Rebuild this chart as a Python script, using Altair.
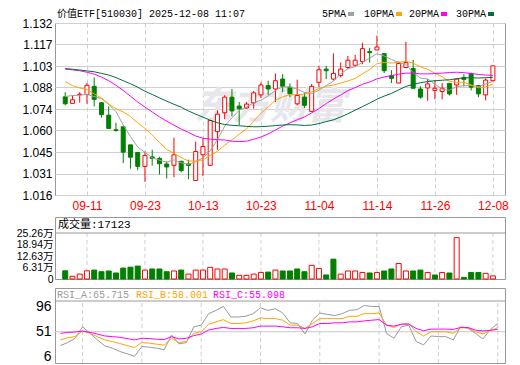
import altair as alt
import pandas as pd

# ---------------- data ----------------
dates = ["09-08","09-09","09-10","09-11","09-12","09-15","09-16","09-17","09-18","09-19",
         "09-22","09-23","09-24","09-25","09-26","09-29","09-30","10-09","10-10","10-13",
         "10-14","10-15","10-16","10-17","10-20","10-21","10-22","10-23","10-24","10-27",
         "10-28","10-29","10-30","10-31","11-03","11-04","11-05","11-06","11-07","11-10",
         "11-11","11-12","11-13","11-14","11-17","11-18","11-19","11-20","11-21","11-24",
         "11-25","11-26","11-27","11-28","12-01","12-02","12-03","12-04","12-05","12-08"]

open_ = [1.0822,1.0778,1.0837,1.0838,1.0893,1.0782,1.0698,1.0600,1.0620,1.0498,
         1.0447,1.0353,1.0417,1.0407,1.0369,1.0360,1.0387,1.0369,1.0258,1.0431,
         1.0360,1.0587,1.0715,1.0820,1.0760,1.0747,1.0782,1.0835,1.0898,1.0875,
         1.0942,1.0887,1.0775,1.0820,1.0724,1.0920,1.1009,1.0942,1.0965,1.1020,
         1.1035,1.1060,1.1127,1.1138,1.1113,1.0965,1.0915,1.1020,1.1013,1.0875,
         1.0882,1.0865,1.0858,1.0913,1.0902,1.0953,1.0980,1.0898,1.0835,1.0931]
close = [1.0775,1.0802,1.0840,1.0900,1.0805,1.0702,1.0609,1.0595,1.0449,1.0415,
         1.0353,1.0427,1.0407,1.0371,1.0349,1.0431,1.0325,1.0360,1.0453,1.0487,
         1.0662,1.0705,1.0820,1.0727,1.0742,1.0773,1.0849,1.0902,1.0875,1.0931,
         1.0893,1.0842,1.0831,1.0765,1.0893,1.1005,1.0998,1.0980,1.1009,1.1069,
         1.1069,1.1147,1.1120,1.1158,1.0998,1.0947,1.1047,1.1053,1.0880,1.0820,
         1.0909,1.0880,1.0880,1.0842,1.0942,1.0940,1.0887,1.0842,1.0935,1.1031]
high = [1.0853,1.0831,1.0853,1.0915,1.0953,1.0787,1.0758,1.0647,1.0620,1.0498,
        1.0447,1.0453,1.0465,1.0418,1.0387,1.0547,1.0391,1.0398,1.0520,1.0542,
        1.0667,1.0731,1.0833,1.0875,1.0787,1.0787,1.0862,1.0920,1.0931,1.0980,
        1.0975,1.0913,1.0938,1.0849,1.0909,1.1031,1.1031,1.1115,1.1053,1.1098,
        1.1105,1.1187,1.1153,1.1235,1.1113,1.1002,1.1060,1.1193,1.1071,1.0893,
        1.0942,1.0931,1.0915,1.0913,1.0949,1.0975,1.0985,1.0898,1.0947,1.1031]
low = [1.0765,1.0778,1.0783,1.0775,1.0758,1.0682,1.0609,1.0587,1.0375,1.0338,
       1.0327,1.0249,1.0358,1.0298,1.0271,1.0280,1.0313,1.0267,1.0258,1.0287,
       1.0360,1.0465,1.0671,1.0690,1.0631,1.0742,1.0742,1.0813,1.0835,1.0787,
       1.0853,1.0820,1.0765,1.0747,1.0720,1.0887,1.0942,1.0931,1.0953,1.1009,
       1.1027,1.1042,1.1053,1.1138,1.0982,1.0915,1.0915,1.1015,1.0880,1.0809,
       1.0795,1.0805,1.0805,1.0831,1.0835,1.0893,1.0865,1.0820,1.0798,1.0931]

ma5 = [1.0824,1.0831,1.0833,1.0838,1.0824,1.0810,1.0771,1.0722,1.0632,1.0554,
       1.0484,1.0448,1.0410,1.0395,1.0381,1.0397,1.0377,1.0367,1.0384,1.0411,
       1.0457,1.0533,1.0625,1.0680,1.0731,1.0753,1.0782,1.0799,1.0828,1.0866,
       1.0890,1.0889,1.0874,1.0852,1.0845,1.0867,1.0898,1.0928,1.0977,1.1012,
       1.1025,1.1055,1.1083,1.1113,1.1098,1.1074,1.1054,1.1041,1.0985,1.0949,
       1.0942,1.0908,1.0874,1.0866,1.0891,1.0897,1.0898,1.0891,1.0909,1.0927]
ma10 = [1.0925,1.0898,1.0882,1.0871,1.0842,1.0813,1.0775,1.0742,1.0720,1.0689,
        1.0647,1.0610,1.0566,1.0514,1.0468,1.0441,1.0413,1.0389,1.0390,1.0396,
        1.0427,1.0455,1.0496,1.0532,1.0571,1.0605,1.0658,1.0712,1.0754,1.0799,
        1.0822,1.0836,1.0837,1.0840,1.0856,1.0879,1.0894,1.0901,1.0915,1.0929,
        1.0946,1.0977,1.1006,1.1045,1.1055,1.1050,1.1055,1.1062,1.1049,1.1024,
        1.1008,1.0981,1.0958,1.0926,1.0920,1.0920,1.0903,1.0883,1.0888,1.0909]
ma20 = [1.1009,1.1004,1.0998,1.0988,1.0975,1.0955,1.0931,1.0900,1.0865,1.0826,
        1.0787,1.0753,1.0720,1.0687,1.0658,1.0631,1.0605,1.0582,1.0558,1.0543,
        1.0537,1.0533,1.0531,1.0523,1.0520,1.0523,1.0536,1.0551,1.0572,1.0598,
        1.0625,1.0646,1.0667,1.0686,1.0714,1.0742,1.0776,1.0807,1.0835,1.0864,
        1.0884,1.0907,1.0922,1.0943,1.0956,1.0965,1.0975,1.0982,1.0982,1.0977,
        1.0977,1.0979,1.0982,1.0986,1.0988,1.0985,1.0979,1.0973,1.0969,1.0967]
ma30 = [1.1013,1.1008,1.1003,1.0997,1.0991,1.0980,1.0969,1.0952,1.0931,1.0910,
        1.0887,1.0860,1.0838,1.0815,1.0793,1.0772,1.0752,1.0727,1.0705,1.0685,
        1.0664,1.0647,1.0635,1.0630,1.0627,1.0623,1.0620,1.0621,1.0624,1.0628,
        1.0632,1.0634,1.0633,1.0629,1.0632,1.0642,1.0655,1.0667,1.0686,1.0708,
        1.0732,1.0756,1.0780,1.0806,1.0827,1.0845,1.0869,1.0892,1.0906,1.0917,
        1.0925,1.0931,1.0934,1.0937,1.0944,1.0950,1.0951,1.0949,1.0951,1.0954]

volume = [45000,15000,27000,45000,49000,40000,44000,33000,60000,65000,
          71000,49000,55000,55000,40000,44000,49000,27000,49000,49000,
          64000,55000,55000,33000,20000,20000,27000,36000,38000,49000,
          44000,44000,55000,40000,75000,58000,22000,109000,27000,44000,
          44000,36000,33000,36000,44000,55000,85000,44000,44000,49000,
          36000,22000,36000,33000,227000,9000,36000,36000,31000,17123]

rsi_a = [26.3,31.6,39.3,59.8,48.1,36.3,25.7,21.6,15.7,11.6,
         6.9,24.6,23.4,21.6,18.7,45.1,29.3,31.6,59.8,62.8,
         83.3,89.2,96.2,77.4,77.4,78.6,83.3,93.9,89.2,92.1,
         84.5,66.9,65.7,46.9,71.6,84.5,82.1,79.8,83.3,89.2,
         90.4,98.0,96.2,96.2,48.1,39.3,59.8,62.8,33.4,27.5,
         43.4,42.2,42.2,36.3,59.8,56.9,48.1,38.0,55.0,65.715]
rsi_b = [36.3,40.4,42.2,52.2,48.1,42.2,36.3,33.4,29.9,26.3,
         22.8,31.6,30.5,28.7,26.9,39.3,31.6,33.4,48.1,51.0,
         64.5,68.6,72.7,65.7,65.7,66.9,70.4,75.7,74.5,74.5,
         71.6,62.8,62.8,56.9,65.7,74.5,74.5,74.5,74.5,78.6,
         78.6,83.3,83.3,84.5,62.8,58.6,64.5,65.7,51.0,43.4,
         51.0,51.0,51.0,48.1,58.1,58.1,51.0,47.0,53.0,58.001]
rsi_c = [48.1,49.8,50.4,52.2,49.8,46.9,43.4,42.2,41.0,38.7,
         36.3,39.3,38.7,37.5,37.0,42.2,38.1,39.3,44.0,46.9,
         53.9,56.9,58.6,56.9,56.9,56.9,58.1,61.0,61.0,61.0,
         59.8,58.1,58.1,56.9,59.8,65.7,65.7,66.9,66.9,68.6,
         68.6,70.4,71.6,72.7,62.8,61.0,64.5,64.5,56.9,52.8,
         55.7,55.7,55.7,55.1,58.6,58.6,53.8,52.5,53.5,55.098]

tick_idx = [3, 11, 19, 27, 35, 43, 51, 59]
price_ticks = [1.016, 1.0305, 1.045, 1.0595, 1.074, 1.0885, 1.103, 1.1175, 1.132]
price_labels = ["1.016", "1.031", "1.045", "1.060", "1.074", "1.088", "1.103", "1.117", "1.132"]
vol_ticks = [0, 63150, 126300, 189450, 252600]
vol_labels = ["0", "6.31万", "12.63万", "18.94万", "25.26万"]
rsi_ticks = [6, 51, 96]
ma_names = ["5PMA", "10PMA", "20PMA", "30PMA"]
title_text = "价值ETF[510030] 2025-12-08 11:07"
watermark = "东方财富"

# ---------------- styling ----------------
RED, GREEN = "#ff0000", "#008000"
MA_COLORS = ["#a0a0a0", "#ffa500", "#ff00ff", "#006f3c"]
GRID, BORDER = "#cfcfcf", "#999999"
MONO = "Liberation Mono, Noto Sans CJK SC"
SANS = "Liberation Sans, Noto Sans CJK SC"
W = 450
H_MAIN = 172
H_VOL, H_VOL_PLOT = 62, 46
H_RSI, H_RSI_PLOT = 75, 62

df = pd.DataFrame({"i": range(len(dates)), "date": dates, "open": open_, "high": high,
                   "low": low, "close": close, "vol": volume, "ma5": ma5, "ma10": ma10,
                   "ma20": ma20, "ma30": ma30, "rsi_a": rsi_a, "rsi_b": rsi_b, "rsi_c": rsi_c})
# volume colour follows the close versus the previous close
prev_close = df["close"].shift(1).fillna(df["open"])
df["vup"] = (df["close"] >= prev_close).astype(int)

UP = "datum.close >= datum.open"
DOWN = "datum.close < datum.open"

xs = alt.Scale(domain=[-0.72, 59.98], nice=False, zero=False)
date_js = "[" + ",".join("'%s'" % d for d in dates) + "]"
price_js = "[" + ",".join("'%s'" % s for s in price_labels) + "]"
step = (price_ticks[-1] - price_ticks[0]) / (len(price_ticks) - 1)

x_main = alt.X("i:Q", scale=xs, axis=alt.Axis(
    values=tick_idx, labelExpr=date_js + "[datum.value]", labelColor=RED, labelFlush=False,
    grid=True, gridColor=GRID, gridDash=[4, 3], ticks=False, domain=False, labelPadding=5,
    title=None, labelFont=SANS, labelFontSize=12, labelOverlap=False))
ys = alt.Scale(domain=[price_ticks[0], price_ticks[-1]], nice=False, zero=False)
y_axis = alt.Axis(values=price_ticks,
                  labelExpr=price_js + "[round((datum.value-%r)/%r)]" % (price_ticks[0], step),
                  grid=True, gridColor=GRID, ticks=False, domain=False, labelPadding=3,
                  title=None, labelFont=SANS, labelFontSize=12, labelOverlap=False)

base = alt.Chart(df)
wm = alt.Chart(pd.DataFrame({"t": [watermark]})).mark_text(
    fontSize=38, fontWeight="bold", fontStyle="italic", color="#e6e6ec", font=SANS
).encode(x=alt.value(215), y=alt.value(85), text="t:N")
wick_up = base.transform_filter(UP).mark_rule(color=RED, strokeWidth=1).encode(
    x=x_main, y=alt.Y("low:Q", scale=ys, axis=y_axis), y2="high:Q")
wick_dn = base.transform_filter(DOWN).mark_rule(color=GREEN, strokeWidth=1).encode(
    x=x_main, y=alt.Y("low:Q", scale=ys, axis=y_axis), y2="high:Q")
body_up = base.transform_filter(UP).mark_bar(size=4, fill="white", stroke=RED, strokeWidth=1).encode(
    x=x_main, y=alt.Y("open:Q", scale=ys, axis=y_axis), y2="close:Q")
body_dn = base.transform_filter(DOWN).mark_bar(size=4, fill=GREEN, stroke=GREEN, strokeWidth=1).encode(
    x=x_main, y=alt.Y("open:Q", scale=ys, axis=y_axis), y2="close:Q")
ma_layers = [base.mark_line(color=c, strokeWidth=1).encode(
    x=x_main, y=alt.Y(f"{f}:Q", scale=ys, axis=y_axis))
    for f, c in zip(["ma5", "ma10", "ma20", "ma30"], MA_COLORS)]

title_layer = alt.Chart(pd.DataFrame({"t": [title_text]})).mark_text(
    align="left", baseline="top", font=MONO, fontSize=10, color="black"
).encode(x=alt.value(2), y=alt.value(-14), text="t:N")
legend_layers = []
lx = [267, 309, 354, 401]
for k, (nm, c) in enumerate(zip(ma_names, MA_COLORS)):
    dname = pd.DataFrame({"t": [nm]})
    legend_layers.append(alt.Chart(dname).mark_text(
        align="left", baseline="top", font=MONO, fontSize=10, color="black"
    ).encode(x=alt.value(lx[k]), y=alt.value(-14), text="t:N"))
    sx = lx[k] + 6 * len(nm) + 2
    legend_layers.append(alt.Chart(dname).mark_rect(color=c).encode(
        x=alt.value(sx), x2=alt.value(sx + 6), y=alt.value(-11), y2=alt.value(-7)))

main = alt.layer(wm, wick_up, wick_dn, body_up, body_dn, *ma_layers,
                 title_layer, *legend_layers).properties(width=W, height=H_MAIN)

# ---------------- volume panel ----------------
vol_top = vol_ticks[-1]
vol_dom = [0, vol_top * H_VOL / H_VOL_PLOT]
vs = alt.Scale(domain=vol_dom, nice=False, zero=True)
vol_js = "[" + ",".join("'%s'" % s for s in vol_labels) + "]"
vol_axis = alt.Axis(values=vol_ticks, labelExpr=vol_js + "[round(datum.value/%r)]" % vol_ticks[1],
                    grid=False, ticks=False, domain=False, labelPadding=2, title=None,
                    labelFont=SANS, labelFontSize=10.5, labelOverlap=False)
x_plain = alt.X("i:Q", scale=xs, axis=None)
ticks_df = pd.DataFrame({"i": tick_idx})
one = pd.DataFrame({"k": [0]})
vgrid = alt.Chart(ticks_df).mark_rule(color=GRID, strokeDash=[4, 3]).encode(
    x=x_plain, y=alt.Y("lo:Q", scale=vs, axis=vol_axis), y2="hi:Q"
).transform_calculate(lo="0", hi=str(vol_top))
vol_up = base.transform_filter("datum.vup == 1").mark_bar(
    size=5, fill="white", stroke=RED, strokeWidth=1).encode(
    x=x_plain, y=alt.Y("vol:Q", scale=vs, axis=vol_axis), y2="zero:Q"
).transform_calculate(zero="0")
vol_dn = base.transform_filter("datum.vup == 0").mark_bar(
    size=5, fill=GREEN, stroke=GREEN, strokeWidth=1).encode(
    x=x_plain, y=alt.Y("vol:Q", scale=vs, axis=vol_axis), y2="zero:Q"
).transform_calculate(zero="0")
vsep = alt.Chart(one).mark_rule(color=BORDER).encode(
    y=alt.Y("v:Q", scale=vs, axis=vol_axis)).transform_calculate(v=str(vol_top))
vhead = alt.Chart(pd.DataFrame({"t": ["成交量:%d" % volume[-1]]})).mark_text(
    align="left", baseline="middle", font=MONO, fontSize=11, color="black"
).encode(x=alt.value(3), y=alt.value(8), text="t:N")
vol_chart = alt.layer(vgrid, vol_up, vol_dn, vsep, vhead).properties(width=W, height=H_VOL)

# ---------------- RSI panel ----------------
rsi_lo, rsi_hi = -5, 106
rsi_dom = [rsi_lo, rsi_lo + (rsi_hi - rsi_lo) * H_RSI / H_RSI_PLOT]
rs = alt.Scale(domain=rsi_dom, nice=False, zero=False)
rsi_axis = alt.Axis(values=rsi_ticks, grid=False, ticks=False, domain=False, labelPadding=4,
                    title=None, labelFont=SANS, labelFontSize=14, labelOverlap=False)
rgrid = alt.Chart(ticks_df).mark_rule(color=GRID, strokeDash=[4, 3]).encode(
    x=x_plain, y=alt.Y("lo:Q", scale=rs, axis=rsi_axis), y2="hi:Q"
).transform_calculate(lo=str(rsi_lo), hi=str(rsi_hi))
rmid = alt.Chart(one).mark_rule(color="#c8c8c8").encode(
    y=alt.Y("v:Q", scale=rs, axis=rsi_axis)).transform_calculate(v=str(rsi_ticks[1]))
rsep = alt.Chart(one).mark_rule(color=BORDER).encode(
    y=alt.Y("v:Q", scale=rs, axis=rsi_axis)).transform_calculate(v=str(rsi_hi))
RSI_COLORS = ["#9a9a9a", "#ffa500", "#ff00ff"]
rsi_lines = [base.mark_line(color=c, strokeWidth=1).encode(
    x=x_plain, y=alt.Y(f"{f}:Q", scale=rs, axis=rsi_axis))
    for f, c in zip(["rsi_a", "rsi_b", "rsi_c"], RSI_COLORS)]
heads = []
hx = [2, 81, 158]
for k, (nm, arr, c) in enumerate(zip(["RSI_A", "RSI_B", "RSI_C"], [rsi_a, rsi_b, rsi_c], RSI_COLORS)):
    heads.append(alt.Chart(pd.DataFrame({"t": ["%s:%.3f" % (nm, arr[-1])]})).mark_text(
        align="left", baseline="middle", font=MONO, fontSize=10, color=c
    ).encode(x=alt.value(hx[k]), y=alt.value(6.5), text="t:N"))
rsi_chart = alt.layer(rgrid, rmid, *rsi_lines, rsep, *heads).properties(width=W, height=H_RSI)

lower = alt.vconcat(vol_chart, rsi_chart, spacing=9, bounds="flush")
chart = alt.vconcat(main, lower, spacing=22, bounds="flush").properties(
    padding={"left": 7, "top": 0, "right": 0, "bottom": 0}
).configure_view(stroke=BORDER, strokeWidth=1).configure_axis(labelOverlap=False)

chart.save("out.html", embed_options={"renderer": "svg", "actions": False})
